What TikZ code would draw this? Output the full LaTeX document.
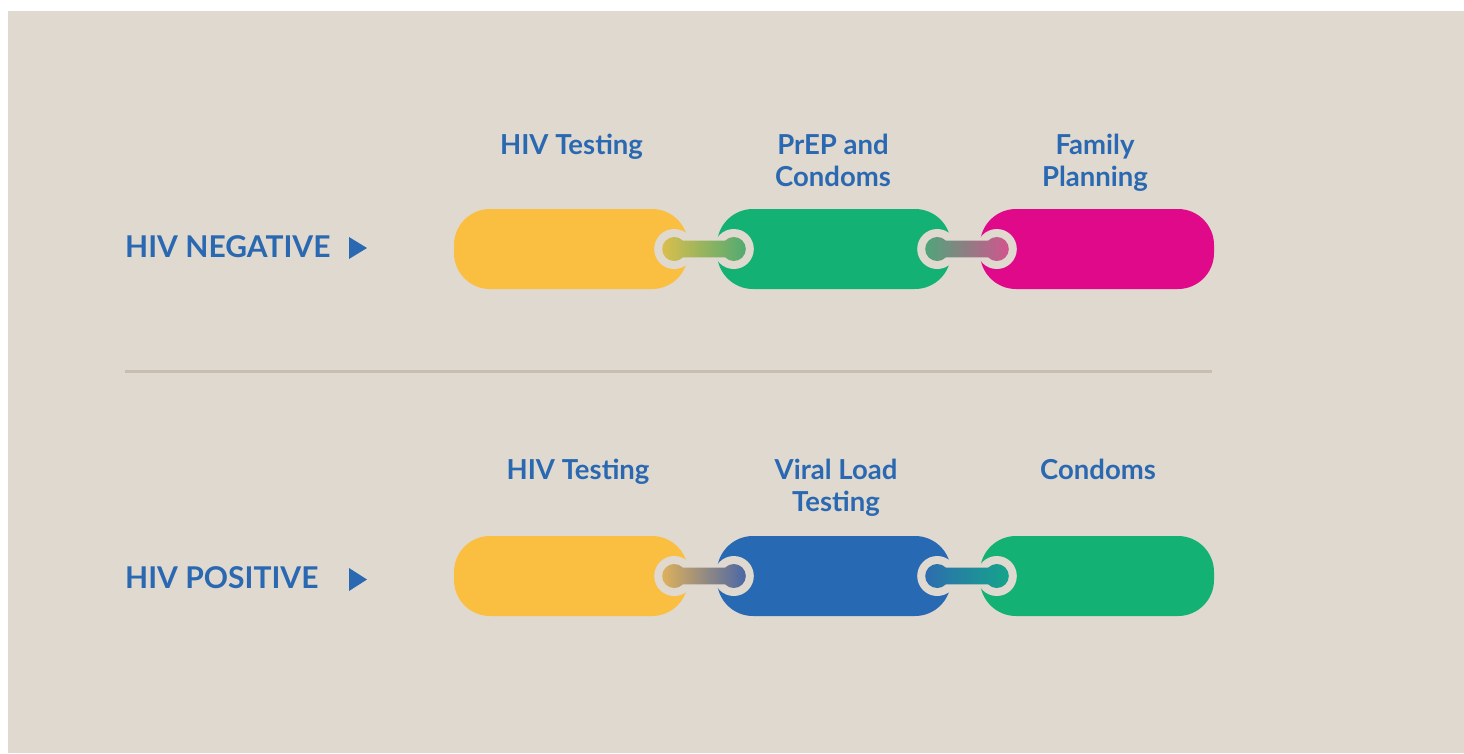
\documentclass[tikz,border=0pt]{standalone}
\usepackage{fontspec}
\setmainfont{Lato}
\usetikzlibrary{calc,shapes.geometric}
\definecolor{bg}{HTML}{E0D9CF}
\definecolor{ylw}{HTML}{FABF40}
\definecolor{grn}{HTML}{13B274}
\definecolor{mag}{HTML}{E0098A}
\definecolor{blu}{HTML}{2769B3}
\definecolor{txt}{HTML}{2A69B2}
\definecolor{rule}{HTML}{C7BEB1}
\definecolor{kYa}{HTML}{DCBE4C}
\definecolor{kGa}{HTML}{4FAA72}
\definecolor{kGb}{HTML}{4DA67A}
\definecolor{kMb}{HTML}{D4538E}
\definecolor{kYc}{HTML}{E0B15A}
\definecolor{kBc}{HTML}{4966A8}
\definecolor{kBd}{HTML}{2E6CB0}
\definecolor{kGd}{HTML}{14A58A}
\tikzset{
  pill/.style={rectangle, rounded corners=36pt, minimum width=234pt, minimum height=80pt, inner sep=0pt},
  head/.style={text=txt, font=\fontsize{27.5}{32}\selectfont\bfseries, align=center, anchor=base, inner sep=0pt},
  rowlabel/.style={text=txt, font=\fontsize{30}{32}\selectfont\bfseries, anchor=base west, inner sep=0pt},
  ring/.style={fill=bg},
}
\newcommand{\linkbar}[4]{%
  \fill[ring] (#1) circle (20);
  \fill[ring] (#2) circle (20);
  \path[left color=#3, right color=#4]
    ([shift={(45:12)}]#1) -- ([shift={(135:12)}]#2)
    arc[start angle=135, end angle=-135, radius=12]
    -- ([shift={(-45:12)}]#1)
    arc[start angle=-45, end angle=-315, radius=12] -- cycle;
}
\begin{document}
\begin{tikzpicture}[x=1pt,y=-1pt]
\useasboundingbox (0,0) rectangle (1464,753);
\fill[white] (0,0) rectangle (1464,753);
\fill[bg] (8,11) rectangle (1464,753);

% divider
\draw[rule, line width=3pt] (125,371) coordinate (l1) -- (1212,371) coordinate (l2);

% row labels
\node[rowlabel] (neg) at (125,257) {HIV NEGATIVE};
\node[rowlabel] (pos) at (125,588) {HIV POSITIVE};
\fill[txt] (349,237) -- (367,248) -- (349,259) -- cycle;
\fill[txt] (349,568) -- (367,579.5) -- (349,591) -- cycle;

% headings
\node[head] (h1) at (571.5,154) {HIV Testing};
\node[head] (h2) at (833,186) {PrEP and\\Condoms};
\node[head] (h3) at (1095,186) {Family\\Planning};
\node[head] (h4) at (578,479) {HIV Testing};
\node[head] (h5) at (836,511) {Viral Load\\Testing};
\node[head] (h6) at (1098,479) {Condoms};

% pills row 1
\node[pill, fill=ylw] (a1) at (571,249) {};
\node[pill, fill=grn] (a2) at (834,249) {};
\node[pill, fill=mag] (a3) at (1097,249) {};
% pills row 2
\node[pill, fill=ylw] (b1) at (571,576) {};
\node[pill, fill=blu] (b2) at (834,576) {};
\node[pill, fill=grn] (b3) at (1097,576) {};

% knob coordinates
\coordinate (a1r) at ($(a1.east)+(-14,0)$);
\coordinate (a2l) at ($(a2.west)+(17,0)$);
\coordinate (a2r) at ($(a2.east)+(-14,0)$);
\coordinate (a3l) at ($(a3.west)+(17,0)$);
\coordinate (b1r) at ($(b1.east)+(-14,0)$);
\coordinate (b2l) at ($(b2.west)+(17,0)$);
\coordinate (b2r) at ($(b2.east)+(-14,0)$);
\coordinate (b3l) at ($(b3.west)+(17,0)$);

\linkbar{a1r}{a2l}{kYa}{kGa}
\linkbar{a2r}{a3l}{kGb}{kMb}
\linkbar{b1r}{b2l}{kYc}{kBc}
\linkbar{b2r}{b3l}{kBd}{kGd}
\end{tikzpicture}
\end{document}
